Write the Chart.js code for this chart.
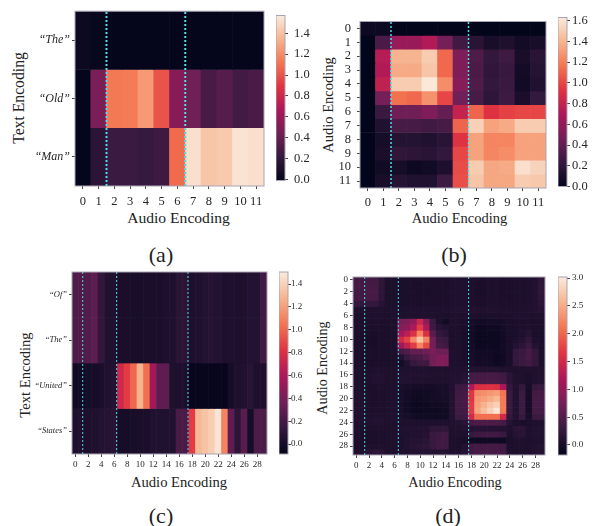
<!DOCTYPE html>
<html>
<head>
<meta charset="utf-8">
<script src="https://cdn.jsdelivr.net/npm/chart.js@4"></script>
<style>
  html, body { margin: 0; padding: 0; background: #fff; }
  body { width: 596px; height: 526px; position: relative; overflow: hidden; }
  canvas { position: absolute; }
  .cap { position: absolute; font-family: "Liberation Serif", serif; color: #222; white-space: nowrap; transform: translate(-50%, -50%); }
  .cap.up { transform: translate(-50%, -50%) rotate(-90deg); }
</style>
</head>
<body>
<div class="cap" style="left:161px;top:255px;font-size:22px">(a)</div>
<div class="cap" style="left:454px;top:255px;font-size:22px">(b)</div>
<div class="cap" style="left:161px;top:516px;font-size:22px">(c)</div>
<div class="cap" style="left:448px;top:516px;font-size:22px">(d)</div>
<div class="cap" style="left:178.5px;top:218px;font-size:15.6px">Audio Encoding</div>
<div class="cap" style="left:459.5px;top:218px;font-size:14.5px">Audio Encoding</div>
<div class="cap" style="left:179px;top:482px;font-size:14.6px">Audio Encoding</div>
<div class="cap" style="left:455px;top:482px;font-size:14.2px">Audio Encoding</div>
<div class="cap up" style="left:19px;top:97.5px;font-size:15.7px">Text Encoding</div>
<div class="cap up" style="left:328px;top:104.5px;font-size:14.5px">Audio Encoding</div>
<div class="cap up" style="left:25px;top:375px;font-size:14.6px">Text Encoding</div>
<div class="cap up" style="left:322px;top:368px;font-size:14.2px">Audio Encoding</div>
<script>
// categories
var audio12 = ["0","1","2","3","4","5","6","7","8","9","10","11"];
var audio30 = ["0","1","2","3","4","5","6","7","8","9","10","11","12","13","14","15","16","17","18","19","20","21","22","23","24","25","26","27","28","29"];
var wordsA = ["\u201CThe\u201D", "\u201COld\u201D", "\u201CMan\u201D"];
var wordsC = ["\u201COf\u201D", "\u201CThe\u201D", "\u201CUnited\u201D", "\u201CStates\u201D"];

// colorbar ticks
var ticksA = [0, 0.2, 0.4, 0.6, 0.8, 1.0, 1.2, 1.4];
var ticksB = [0, 0.2, 0.4, 0.6, 0.8, 1.0, 1.2, 1.4, 1.6];
var ticksC = [0, 0.2, 0.4, 0.6, 0.8, 1.0, 1.2, 1.4];
var ticksD = [0, 0.5, 1.0, 1.5, 2.0, 2.5, 3.0];

// segment boundaries (dotted lines)
var cutsA = [1.5, 6.5];
var cutsB = [1.5, 6.5];
var cutsC = [1.15, 6.37, 17.35];
var cutsD = [1.33, 6.58, 17.57];

// (a)
var aThe = [0.03,0.01,0,0,0,0,0,0,0,0,0,0];
var aOld = [0,0.48,1.13,1.14,1.25,1.0,0.52,0.44,0.29,0.34,0.27,0.3];
var aMan = [0,0.17,0.24,0.24,0.22,0.25,1.08,1.52,1.42,1.43,1.54,1.52];

// (b)
var b00 = [0.05,0.05,0,0,0,0,0,0,0,0,0,0];
var b01 = [0,0.32,0.62,0.62,0.72,0.48,0.28,0.18,0.1,0.13,0.08,0.1];
var b02 = [0,0.74,1.4,1.4,1.5,1.12,0.52,0.33,0.22,0.27,0.1,0.18];
var b03 = [0,0.72,1.36,1.36,1.47,1.12,0.52,0.31,0.21,0.24,0.08,0.16];
var b04 = [0,0.78,1.5,1.5,1.62,1.25,0.55,0.33,0.22,0.25,0.07,0.14];
var b05 = [0,0.48,1.15,1.12,1.27,1.0,0.47,0.3,0.2,0.26,0.11,0.23];
var b06 = [0,0.25,0.46,0.46,0.52,0.42,0.8,1.1,0.92,0.98,1.0,1.0];
var b07 = [0,0.14,0.3,0.3,0.28,0.3,1.1,1.52,1.33,1.36,1.5,1.5];
var b08 = [0,0.09,0.16,0.16,0.14,0.18,0.92,1.33,1.22,1.22,1.33,1.33];
var b09 = [0,0.11,0.21,0.19,0.18,0.22,1.0,1.33,1.23,1.25,1.33,1.33];
var b10 = [0,0.07,0.09,0.05,0.07,0.12,1.02,1.5,1.35,1.36,1.58,1.53];
var b11 = [0,0.1,0.16,0.14,0.14,0.26,1.03,1.47,1.35,1.35,1.5,1.48];

// (c)
var cOf = [0.24,0.24,0.25,0.3,0.12,0.05,0.05,0.02,0.02,0.01,0.01,0.02,0.02,0.02,0.03,0.04,0.09,0.09,0.03,0.04,0.06,0.07,0.06,0.03,0.04,0.03,0.04,0.06,0.06,0.18];
var cThe = [0.24,0.24,0.25,0.3,0.12,0.05,0.05,0.02,0.02,0.01,0.01,0.02,0.02,0.02,0.03,0.04,0.09,0.09,0.03,0.04,0.06,0.07,0.06,0.03,0.04,0.03,0.04,0.06,0.06,0.18];
var cUnited = [-0.03,-0.02,0,0,0.02,0.05,0.06,0.74,0.85,1.0,1.27,1.03,0.55,0.3,0.3,0.04,0.03,0.03,-0.07,-0.07,-0.07,-0.07,-0.07,-0.07,0,0.04,0.05,0.08,0.03,0.03];
var cStates = [0.03,0.04,0.03,0.04,0.06,0.07,0.08,0,0,0.01,0.02,0.02,0.05,0.05,0.05,0.05,0.22,0.22,0.85,1.3,1.34,1.38,1.48,1.1,0.3,0.1,0.28,0,0.23,0.23];

// (d)
var d00 = [.38,.38,.38,.38,.2,.06,.06,.05,.05,.05,.04,.05,.04,.05,.05,.07,.07,.07,.06,.04,.03,.06,.07,.04,.05,.06,.06,.07,.1,.2];
var d01 = [.4,.4,.4,.4,.2,.06,.06,.05,.05,.04,.03,.04,.04,.05,.05,.07,.07,.07,.06,.03,.03,.06,.07,.04,.05,.06,.06,.07,.1,.22];
var d02 = [.38,.38,.42,.42,.2,.06,.06,.04,.04,.04,.02,.03,.04,.05,.05,.07,.07,.07,.06,.03,.03,.06,.07,.04,.05,.06,.06,.07,.1,.22];
var d03 = [.38,.38,.4,.4,.2,.06,.06,.05,.05,.04,.03,.04,.04,.05,.05,.07,.07,.07,.06,.04,.04,.06,.07,.05,.05,.06,.06,.07,.1,.2];
var d04 = [.26,.26,.26,.24,.14,.06,.06,.05,.05,.04,.03,.04,.05,.05,.06,.07,.08,.08,.07,.05,.05,.07,.07,.06,.06,.07,.07,.08,.1,.18];
var d05 = [.08,.08,.08,.08,.07,.06,.07,.07,.07,.07,.07,.07,.07,.07,.07,.09,.1,.1,.09,.09,.09,.09,.09,.08,.08,.08,.08,.09,.1,.14];
var d06 = [.04,.05,.08,.08,.07,.06,.07,.08,.08,.08,.08,.08,.08,.06,.05,.08,.08,.07,.06,.05,.05,.05,.06,.06,.06,.07,.07,.08,.08,.08];
var d07 = [.04,.05,.06,.06,.05,.05,.06,.8,.85,1.0,1.45,.95,.3,.05,-.05,.06,.07,.04,0,-.03,-.03,-.02,-.02,0,.03,.05,.05,.06,.05,.05];
var d08 = [.04,.05,.05,.05,.05,.05,.06,.9,.95,1.2,1.7,1.2,.35,.15,.1,.06,.06,.03,-.02,-.08,-.08,-.06,-.06,-.02,.03,.05,.06,.08,.05,.05];
var d09 = [.04,.04,.03,.02,.04,.05,.06,1.13,1.3,1.6,2.2,1.6,.55,.25,.18,.06,.06,.03,-.03,-.1,-.1,-.08,-.08,-.03,.03,.05,.07,.15,.05,.05];
var d10 = [.04,.04,.02,.01,.04,.05,.06,1.5,1.75,2.25,2.7,2.2,.75,.35,.3,.06,.06,.03,-.03,-.1,-.1,-.1,-.1,-.04,.03,.06,.1,.22,.06,.05];
var d11 = [.04,.04,.03,.02,.04,.05,.06,1.1,1.35,1.7,2.2,1.8,.75,.4,.35,.06,.06,.03,-.02,-.08,-.08,-.08,-.08,-.03,.03,.12,.18,.3,.12,.05];
var d12 = [.04,.05,.04,.03,.04,.05,.06,.4,.5,.65,.65,.7,.8,.7,.7,.07,.06,.03,0,-.05,-.05,-.04,-.06,-.04,.03,.25,.3,.42,.25,.06];
var d13 = [.04,.05,.04,.03,.04,.05,.06,.1,.3,.4,.45,.55,.75,.85,.85,.07,.06,.03,.02,-.04,-.02,-.04,-.08,-.06,.03,.27,.32,.42,.27,.06];
var d14 = [.04,.05,.05,.04,.04,.05,.06,-.02,.1,.25,.35,.35,.75,.85,.85,.07,.06,.04,.03,-.02,0,-.03,-.07,-.05,.03,.25,.3,.38,.25,.06];
var d15 = [.06,.06,.06,.07,.07,.07,.07,.08,.08,.08,.08,.08,.08,.08,.08,.09,.09,.09,.1,.1,.1,.1,.1,.08,.08,.08,.08,.09,.09,.09];
var d16 = [.06,.06,.08,.1,.1,.08,.08,.1,.1,.1,.1,.1,.09,.09,.09,.1,.1,.14,.38,.4,.4,.4,.4,.35,.18,.09,.08,.05,.09,.1];
var d17 = [.06,.06,.08,.1,.1,.08,.08,.1,.1,.09,.09,.08,.08,.08,.08,.1,.12,.16,.42,.42,.42,.42,.42,.38,.18,.09,.08,.04,.09,.1];
var d18 = [.06,.06,.06,.06,.07,.07,.07,.04,.02,0,-.02,-.02,-.01,.02,.02,.1,.32,.34,1.2,1.6,1.6,1.62,1.6,1.2,.25,.1,.25,.02,.28,.3];
var d19 = [.07,.07,.06,.04,.06,.07,.07,.03,-.02,-.05,-.06,-.05,-.02,0,.02,.1,.36,.38,1.65,2.25,2.3,2.35,2.4,2.1,.3,.1,.32,0,.38,.38];
var d20 = [.08,.08,.06,.04,.06,.07,.07,.03,-.02,-.06,-.07,-.05,-.02,-.02,0,.1,.38,.4,1.65,2.35,2.4,2.5,2.6,2.15,.3,.1,.33,-.02,.4,.4];
var d21 = [.08,.08,.06,.05,.06,.07,.07,.03,-.03,-.08,-.09,-.08,-.05,-.05,-.03,.1,.38,.4,1.7,2.4,2.55,2.7,2.8,2.15,.3,.1,.33,-.02,.42,.4];
var d22 = [.07,.07,.06,.06,.06,.07,.07,.03,-.03,-.08,-.09,-.08,-.07,-.07,-.06,.1,.36,.38,1.7,2.45,2.65,2.8,2.98,2.15,.3,.1,.33,-.02,.4,.38];
var d23 = [.07,.07,.07,.07,.07,.07,.07,.04,.02,-.03,-.05,-.05,-.05,-.05,-.05,.1,.32,.35,1.5,2.05,2.05,2.05,2.05,1.5,.25,.1,.28,.02,.32,.32];
var d24 = [.07,.07,.09,.1,.1,.08,.08,.08,.08,.07,.06,.06,.07,.08,.08,.09,.12,.16,.4,.46,.46,.46,.46,.4,.14,.05,.05,.04,.08,.08];
var d25 = [.06,.06,.08,.08,.08,.08,.08,.09,.1,.1,.1,.1,.2,.2,.22,.08,.09,.1,.14,.15,.14,.14,.14,.12,.08,.16,.18,.08,.1,.1];
var d26 = [.05,.05,.05,.04,.06,.07,.08,.07,.08,.1,.1,.12,.3,.34,.36,.08,.08,.08,.28,.34,.36,.36,.36,.3,.06,.14,.16,.08,.1,.1];
var d27 = [.05,.05,.05,.04,.06,.07,.08,.07,.1,.12,.14,.16,.3,.36,.38,.06,.04,.02,-.06,-.07,-.06,-.06,-.06,-.07,.04,.08,.08,.06,.08,.08];
var d28 = [.05,.05,.07,.08,.08,.08,.08,.08,.1,.14,.18,.2,.3,.36,.36,.06,.05,.1,.36,.4,.4,.4,.4,.36,.06,.06,.08,.08,.1,.1];
var d29 = [.09,.09,.16,.2,.18,.08,.08,.08,.08,.1,.1,.1,.12,.12,.12,.07,.07,.12,.36,.4,.42,.42,.4,.36,.08,.06,.08,.08,.12,.12];

Chart.defaults.font.family = '"Liberation Serif", serif';
Chart.defaults.color = "#262626";

// seaborn rocket stops
var rocketStops = [[3,5,26],[53,25,62],[112,31,87],[173,23,89],[225,51,66],[243,118,81],[246,180,143],[250,235,221]];

function rocket(t) {
    t = Math.min(1, Math.max(0, t));
    var p = t * (rocketStops.length - 1), i = Math.min(Math.floor(p), rocketStops.length - 2), f = p - i;
    var a = rocketStops[i], b = rocketStops[i + 1];
    return "rgb(" + [0, 1, 2].map(function (k) { return Math.round(a[k] + (b[k] - a[k]) * f); }).join(",") + ")";
}

var frame = {
    id: "frame",
    afterDraw: function (chart) {
        var a = chart.chartArea, c = chart.ctx;
        c.save();
        c.strokeStyle = "#a9a3b4";
        c.lineWidth = 1;
        c.strokeRect(a.left, a.top, a.right - a.left, a.bottom - a.top);
        c.restore();
    }
};

function addCanvas(left, top, w, h) {
    var el = document.createElement("canvas");
    el.width = w;
    el.height = h;
    el.style.left = left + "px";
    el.style.top = top + "px";
    document.body.appendChild(el);
    return el.getContext("2d");
}

function heatmap(o) {
    var datasets = o.rows.map(function (row) {
        return {
            data: row.map(function () { return 1; }),
            backgroundColor: row.map(function (v) { return rocket((v - o.vmin) / (o.vmax - o.vmin)); }),
            borderWidth: 0,
            barPercentage: 1,
            categoryPercentage: 1
        };
    });
    o.cuts.forEach(function (c) {
        datasets.push({
            type: "line",
            yAxisID: "yl",
            parsing: false,
            order: -1,
            data: [{ x: c, y: 0 }, { x: c, y: 1 }],
            borderColor: "#4fdde6",
            borderWidth: o.cutWidth,
            borderDash: [2, 2],
            pointRadius: 0
        });
    });
    new Chart(addCanvas(o.x - o.yw, o.y - 8, o.yw + o.w + 8, o.h + 8 + 25), {
        type: "bar",
        data: { labels: o.labels, datasets: datasets },
        plugins: [frame],
        options: {
            responsive: false,
            animation: false,
            layout: { padding: { top: 8, right: 8, left: 0, bottom: 0 } },
            plugins: { legend: { display: false }, tooltip: { enabled: false } },
            scales: {
                x: {
                    stacked: true,
                    afterFit: function (s) { s.height = 25; },
                    grid: { offset: false, drawOnChartArea: false, tickLength: 3, color: "#444" },
                    border: { display: false },
                    ticks: {
                        autoSkip: false, maxRotation: 0, padding: o.xPad,
                        font: { size: o.tickSize },
                        callback: function (v, i) { return i % o.xEvery ? null : o.labels[i]; }
                    }
                },
                y: {
                    stacked: true,
                    reverse: true,
                    min: 0,
                    max: o.yLabels.length,
                    afterFit: function (s) { s.width = o.yw; },
                    afterBuildTicks: function (s) {
                        s.ticks = [];
                        o.yLabels.forEach(function (l, i) {
                            if (i % o.yEvery === 0) s.ticks.push({ value: i + 0.5 });
                        });
                    },
                    grid: { drawOnChartArea: false, tickLength: 3, color: "#444" },
                    border: { display: false },
                    ticks: {
                        autoSkip: false, padding: o.yPad,
                        font: { size: o.yTickSize, style: o.yStyle },
                        callback: function (v) { return o.yLabels[v - 0.5]; }
                    }
                },
                yl: { type: "linear", display: false, min: 0, max: 1 }
            }
        }
    });
}

function colorbar(o) {
    new Chart(addCanvas(o.x, o.y - 8, o.w + 40, o.h + 16), {
        type: "bar",
        data: {
            labels: [""],
            datasets: [{
                data: [[o.vmin, o.vmax]],
                barPercentage: 1,
                categoryPercentage: 1,
                borderWidth: 0,
                backgroundColor: function (ctx) {
                    var a = ctx.chart.chartArea;
                    if (!a) return "#000";
                    var g = ctx.chart.ctx.createLinearGradient(0, a.bottom, 0, a.top);
                    rocketStops.forEach(function (s, i) {
                        g.addColorStop(i / (rocketStops.length - 1), "rgb(" + s.join(",") + ")");
                    });
                    return g;
                }
            }]
        },
        plugins: [frame],
        options: {
            responsive: false,
            animation: false,
            layout: { padding: { top: 8, bottom: 8, left: 0, right: 0 } },
            plugins: { legend: { display: false }, tooltip: { enabled: false } },
            scales: {
                x: { display: false },
                y: {
                    position: "right",
                    min: o.vmin,
                    max: o.vmax,
                    afterFit: function (s) { s.width = 40; },
                    afterBuildTicks: function (s) {
                        s.ticks = o.ticks.map(function (v) { return { value: v }; });
                    },
                    grid: { drawOnChartArea: false, tickLength: 3, color: "#444" },
                    border: { display: false },
                    ticks: {
                        padding: o.pad,
                        font: { size: o.tickSize },
                        callback: function (v) { return v.toFixed(1); }
                    }
                }
            }
        }
    });
}

heatmap({ rows: [aThe, aOld, aMan], labels: audio12, yLabels: wordsA, cuts: cutsA, vmin: -0.01, vmax: 1.57,
    x: 75, y: 10, w: 189, h: 176, yw: 50, xPad: 5, yPad: 2, tickSize: 12.5, yTickSize: 12, yStyle: "italic",
    xEvery: 1, yEvery: 1, cutWidth: 2 });
colorbar({ ticks: ticksA, vmin: -0.01, vmax: 1.57, x: 276, y: 10, w: 9, h: 176, tickSize: 12.5, pad: 6 });

heatmap({ rows: [b00, b01, b02, b03, b04, b05, b06, b07, b08, b09, b10, b11], labels: audio12, yLabels: audio12, cuts: cutsB, vmin: 0, vmax: 1.63,
    x: 360, y: 16, w: 186, h: 172, yw: 30, xPad: 4, yPad: 6, tickSize: 12.5, yTickSize: 12.5, yStyle: "normal",
    xEvery: 1, yEvery: 1, cutWidth: 1.5 });
colorbar({ ticks: ticksB, vmin: 0, vmax: 1.63, x: 558, y: 16, w: 9, h: 172, tickSize: 12.5, pad: 2 });

heatmap({ rows: [cOf, cThe, cUnited, cStates], labels: audio30, yLabels: wordsC, cuts: cutsC, vmin: -0.087, vmax: 1.505,
    x: 72, y: 272, w: 195, h: 182, yw: 40, xPad: 2, yPad: 2, tickSize: 9, yTickSize: 8.5, yStyle: "italic",
    xEvery: 2, yEvery: 1, cutWidth: 1 });
colorbar({ ticks: ticksC, vmin: -0.087, vmax: 1.505, x: 279, y: 272, w: 9, h: 182, tickSize: 9, pad: 0 });

heatmap({ rows: [d00,d01,d02,d03,d04,d05,d06,d07,d08,d09,d10,d11,d12,d13,d14,d15,d16,d17,d18,d19,d20,d21,d22,d23,d24,d25,d26,d27,d28,d29], labels: audio30, yLabels: audio30, cuts: cutsD, vmin: -0.18, vmax: 3.02,
    x: 353, y: 277, w: 192, h: 178, yw: 25, xPad: 2, yPad: 2, tickSize: 9, yTickSize: 9, yStyle: "normal",
    xEvery: 2, yEvery: 2, cutWidth: 1 });
colorbar({ ticks: ticksD, vmin: -0.18, vmax: 3.02, x: 558, y: 277, w: 9, h: 178, tickSize: 9, pad: 2 });
</script>
</body>
</html>
